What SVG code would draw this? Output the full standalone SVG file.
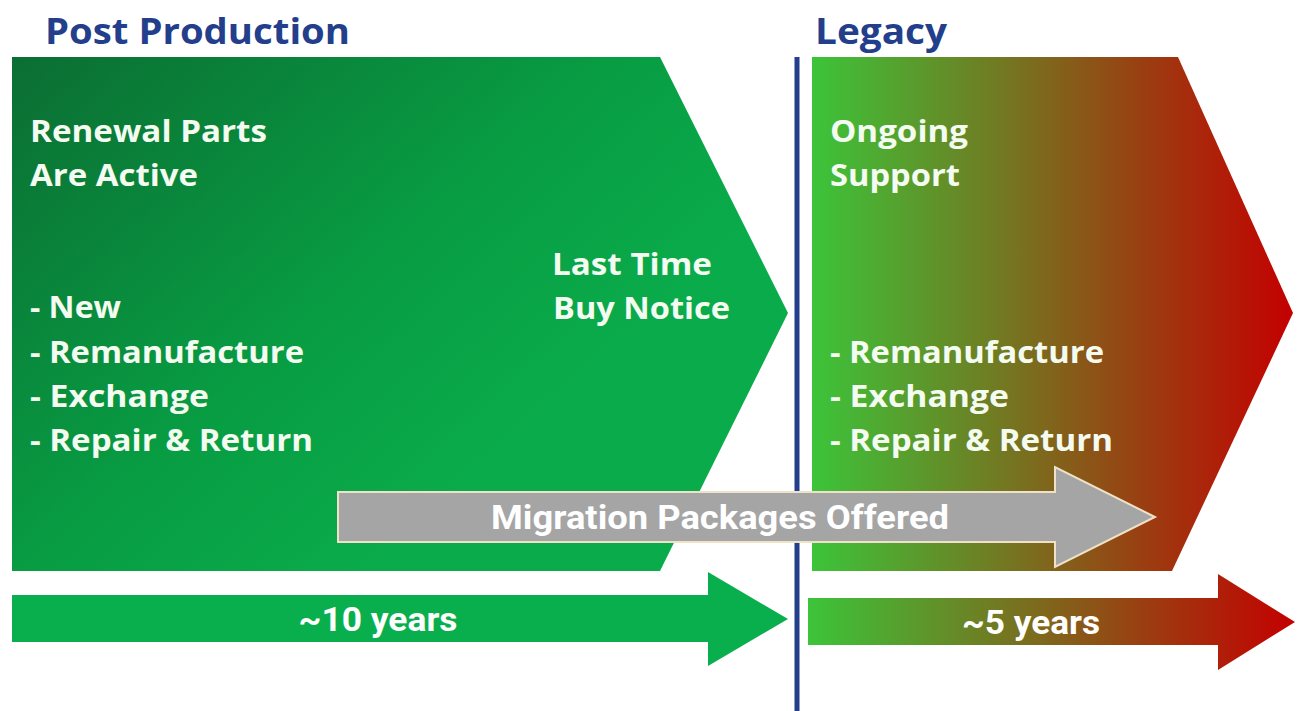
<svg xmlns="http://www.w3.org/2000/svg" width="1297" height="711" viewBox="0 0 1297 711">
<defs>
<linearGradient id="gLeft" x1="12" y1="57" x2="420" y2="520" gradientUnits="userSpaceOnUse">
<stop offset="0" stop-color="#0b6e33"/>
<stop offset="0.65" stop-color="#089d43"/>
<stop offset="1" stop-color="#0aab4b"/>
</linearGradient>
<linearGradient id="gLegacy" x1="812" y1="0" x2="1293" y2="0" gradientUnits="userSpaceOnUse">
<stop offset="0" stop-color="#3cc43a"/>
<stop offset="0.45" stop-color="#7a6e1e"/>
<stop offset="1" stop-color="#c40000"/>
</linearGradient>
<linearGradient id="gFive" x1="808" y1="0" x2="1295" y2="0" gradientUnits="userSpaceOnUse">
<stop offset="0" stop-color="#3cc43a"/>
<stop offset="0.45" stop-color="#7a6e1e"/>
<stop offset="1" stop-color="#c40000"/>
</linearGradient>
<style>
.title{font-family:"Open Sans","Liberation Sans",sans-serif;font-weight:700;font-size:36px;fill:#233e8b}
.w{font-family:"Open Sans","Liberation Sans",sans-serif;font-weight:700;font-size:30px;fill:#f4fbf0}
.c{font-family:"Roboto","Liberation Sans",sans-serif;font-weight:700;font-size:34px;fill:#ffffff}
</style>
</defs>
<rect width="1297" height="711" fill="#ffffff"/>
<g id="post-production">
<text class="title" x="45" y="44" textLength="305" lengthAdjust="spacingAndGlyphs">Post Production</text>
<polygon points="12,57 660,57 788,313 660,571 12,571" fill="url(#gLeft)"/>
<text class="w" x="30" y="142" textLength="237" lengthAdjust="spacingAndGlyphs">Renewal  Parts</text>
<text class="w" x="30" y="186" textLength="168" lengthAdjust="spacingAndGlyphs">Are Active</text>
<text class="w" x="30" y="318" textLength="91" lengthAdjust="spacingAndGlyphs">- New</text>
<text class="w" x="30" y="363" textLength="274" lengthAdjust="spacingAndGlyphs">- Remanufacture</text>
<text class="w" x="30" y="407" textLength="179" lengthAdjust="spacingAndGlyphs">- Exchange</text>
<text class="w" x="30" y="451" textLength="283" lengthAdjust="spacingAndGlyphs">- Repair &amp; Return</text>
<text class="w" x="552" y="275" textLength="160" lengthAdjust="spacingAndGlyphs">Last Time</text>
<text class="w" x="553" y="319" textLength="177" lengthAdjust="spacingAndGlyphs">Buy Notice</text>
</g>
<g id="legacy">
<text class="title" x="815" y="44" textLength="132" lengthAdjust="spacingAndGlyphs">Legacy</text>
<polygon points="812,57 1178,57 1293,313 1172,571 812,571" fill="url(#gLegacy)"/>
<text class="w" x="830" y="142" textLength="138" lengthAdjust="spacingAndGlyphs">Ongoing</text>
<text class="w" x="830" y="186" textLength="130" lengthAdjust="spacingAndGlyphs">Support</text>
<text class="w" x="830" y="363" textLength="274" lengthAdjust="spacingAndGlyphs">- Remanufacture</text>
<text class="w" x="830" y="407" textLength="179" lengthAdjust="spacingAndGlyphs">- Exchange</text>
<text class="w" x="830" y="451" textLength="283" lengthAdjust="spacingAndGlyphs">- Repair &amp; Return</text>
</g>
<g id="divider">
<line x1="797" y1="57" x2="797" y2="711" stroke="#233e8b" stroke-width="5"/>
</g>
<g id="connectors">
<g id="migration">
<polygon points="338,492 1055,492 1055,467 1155,517 1055,567 1055,542 338,542" fill="#a5a5a5" stroke="#f0e2c8" stroke-width="2"/>
<text class="c" x="720" y="529" text-anchor="middle" textLength="458" lengthAdjust="spacingAndGlyphs">Migration Packages Offered</text>
</g>
<g id="ten-years">
<polygon points="12,595 708,595 708,572 788,619 708,666 708,642 12,642" fill="#0aaf4d"/>
<text class="c" x="378" y="631" text-anchor="middle" textLength="159" lengthAdjust="spacingAndGlyphs">~10 years</text>
</g>
<g id="five-years">
<polygon points="808,598 1218,598 1218,574 1295,622 1218,670 1218,645 808,645" fill="url(#gFive)"/>
<text class="c" x="1031" y="634" text-anchor="middle" textLength="138" lengthAdjust="spacingAndGlyphs">~5 years</text>
</g>
</g>
</svg>
